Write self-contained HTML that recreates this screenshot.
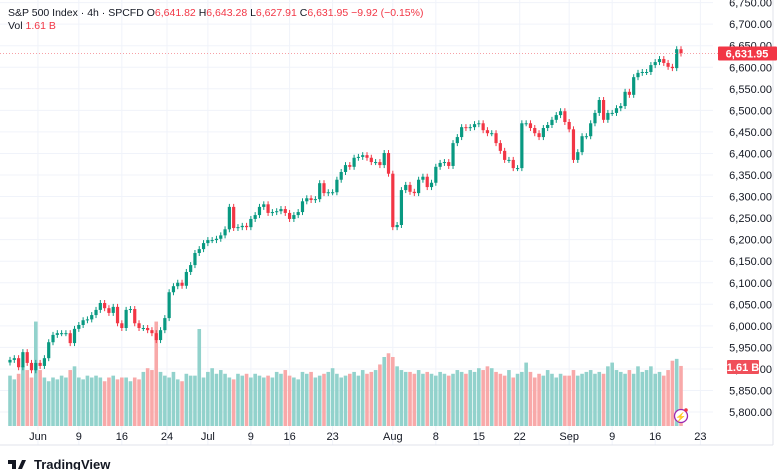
<!DOCTYPE html>
<html><head><meta charset="utf-8">
<style>
body{margin:0;background:#fff;font-family:"Liberation Sans",sans-serif;}
#wrap{position:relative;width:780px;height:470px;overflow:hidden;}
svg text{font-family:"Liberation Sans",sans-serif;}
</style></head>
<body>
<div id="wrap">
<svg id="chart" width="780" height="470"></svg>
</div>
<script>
const closes=[5921,5925,5904,5939,5914,5897,5914,5907,5925,5962,5979,5983,5983,5983,5960,5993,6002,6013,6015,6025,6037,6053,6041,6030,6044,6006,5995,6037,6039,6006,5995,5995,5990,5983,5967,5990,6018,6078,6092,6100,6093,
6125,6141,6169,6178,6192,6199,6199,6202,6210,6224,6276,6227,6229,6232,6229,6248,6257,6276,6282,6262,6264,6266,6271,6262,6248,6257,6264,6289,6296,6292,6294,6331,6308,6310,6310,6339,6357,6373,6369,6390,6392,6396,6390,6380,6380,
6373,6401,6353,6229,6234,6315,6327,6311,6308,6339,6346,6322,6332,6369,6378,6380,6371,6424,6438,6461,6459,6461,6468,6470,6454,6447,6447,6424,6406,6385,6385,6366,6366,6470,6470,6459,6447,6438,6459,6466,6478,6489,6498,6473,6456,6385,6403,6440,6440,6470,6494,6524,6478,6494,6494,6505,6510,6543,6536,6577,6587,6589,6589,6605,6612,6619,6610,6601,6598,6641.82,6631.95];
const firstOpen=5915;
const volumes=[1.35,1.25,1.4,1.6,1.5,1.3,2.8,1.5,1.3,1.2,1.3,1.25,1.35,1.3,1.5,1.6,1.3,1.25,1.35,1.3,1.35,1.3,1.2,1.3,1.35,1.25,1.3,1.3,1.2,1.3,1.25,1.45,1.55,1.5,2.8,1.45,1.35,1.3,1.45,1.25,1.2,1.4,1.35,1.35,2.6,1.3,1.45,1.55,1.4,1.5,1.4,1.3,1.25,1.4,1.35,1.4,1.3,1.4,1.35,1.3,1.35,1.3,1.45,1.4,1.5,1.35,1.3,1.25,1.45,1.4,1.45,1.3,1.35,1.4,1.45,1.55,1.4,1.3,1.35,1.4,1.45,1.35,1.5,1.4,1.45,1.5,1.65,1.85,1.95,1.85,1.6,1.5,1.45,1.45,1.4,1.5,1.4,1.45,1.4,1.35,1.45,1.4,1.35,1.4,1.5,1.45,1.4,1.5,1.45,1.55,1.5,1.6,1.55,1.45,1.4,1.35,1.5,1.3,1.4,1.45,1.7,1.45,1.3,1.4,1.35,1.5,1.4,1.3,1.4,1.35,1.35,1.5,1.35,1.4,1.45,1.5,1.4,1.45,1.4,1.6,1.7,1.5,1.45,1.4,1.5,1.4,1.6,1.45,1.5,1.6,1.4,1.45,1.35,1.5,1.75,1.8,1.61];
const priceTicks=[6750,6700,6650,6600,6550,6500,6450,6400,6350,6300,6250,6200,6150,6100,6050,6000,5950,5900,5850,5800];
const dateLabels=["Jun","9","16","24","Jul","9","16","23","Aug","8","15","22","Sep","9","16","23"];
const dateIndex=[6.5,16,26,36.5,46,56,65,75,89,99,109,118.5,130,140,150,160.5];

const svg=document.getElementById('chart');
const NS='http://www.w3.org/2000/svg';
function mk(tag,attrs,parent){const e=document.createElementNS(NS,tag);for(const k in attrs)e.setAttribute(k,attrs[k]);(parent||svg).appendChild(e);return e;}
const plotR=713, baseV=426;
function y(p){return 45.7+(6650-p)*0.431;}
function x(i){return 10+i*(671/(closes.length-1));}
function vh(v){return v*37.3;}

const grid=mk('g',{});


priceTicks.forEach(p=>{mk('line',{x1:0,x2:plotR,y1:y(p),y2:y(p),stroke:'#f0f3fa','stroke-width':1},grid);});
dateIndex.forEach(d=>{mk('line',{x1:x(d),x2:x(d),y1:0,y2:445,stroke:'#f0f3fa','stroke-width':1},grid);});

const vg=mk('g',{});


const opens=closes.map((c,i)=>i===0?firstOpen:closes[i-1]);
volumes.forEach((v,i)=>{
  const up=closes[i]>=opens[i];
  const r=mk('rect',{x:x(i)-1.8,y:baseV-vh(v),width:3.6,height:vh(v),fill:up?'#92d2cc':'#f8a9a9'},vg);
  
  
});

const cg=mk('g',{});


closes.forEach((c,i)=>{
  const o=opens[i];const up=c>=o;const col=up?'#089981':'#f23645';
  const top=y(Math.max(o,c)),bot=y(Math.min(o,c));
  const g=mk('g',{},cg);
  
  
  mk('line',{x1:x(i),x2:x(i),y1:top-3,y2:bot+3,stroke:col,'stroke-width':1},g);
  mk('rect',{x:x(i)-1.6,y:top,width:3.2,height:Math.max(1,bot-top),fill:col},g);
});

const last=closes[closes.length-1];
const pl=mk('line',{x1:0,x2:718,y1:y(last),y2:y(last),stroke:'#f7a0a6','stroke-width':1,'stroke-dasharray':'1,2'});



const ax=mk('g',{});


mk('line',{x1:0,x2:773,y1:445,y2:445,stroke:'#e0e3eb'},ax);
mk('line',{x1:773,x2:773,y1:0,y2:445,stroke:'#e0e3eb'},ax);
priceTicks.forEach(p=>{const t=mk('text',{x:772,y:y(p)+4,'text-anchor':'end','font-size':11,fill:'#131722'},ax);t.textContent=p.toLocaleString('en-US',{minimumFractionDigits:2});
});
const xa=mk('g',{});


dateLabels.forEach((d,k)=>{const t=mk('text',{x:x(dateIndex[k]),y:440,'text-anchor':'middle','font-size':11,fill:'#131722'},xa);t.textContent=d;
});

const plb=mk('g',{});


mk('rect',{x:718,y:y(last)-7,width:59,height:14,fill:'#f23645',rx:1},plb);
const plt=mk('text',{x:747,y:y(last)+4,'text-anchor':'middle','font-size':11,fill:'#fff','font-weight':'bold'},plb);plt.textContent='6,631.95';
const vlb=mk('g',{});


mk('rect',{x:727,y:360,width:32,height:14,fill:'#f0505a',rx:1},vlb);
const vlt=mk('text',{x:743,y:371,'text-anchor':'middle','font-size':11,fill:'#fff','font-weight':'bold'},vlb);vlt.textContent='1.61 B';

const ic=mk('g',{});


mk('circle',{cx:681,cy:416,r:6.5,fill:'#fff',stroke:'#9c27b0','stroke-width':1.3},ic);
const bolt=mk('text',{x:681,y:420,'text-anchor':'middle','font-size':9,fill:'#9c27b0'},ic);bolt.textContent='⚡';
mk('circle',{cx:686,cy:410,r:1.8,fill:'#f23645'},ic);

const h=mk('text',{x:8,y:16,'font-size':10.5,fill:'#131722'});


h.innerHTML='S&amp;P 500 Index · 4h · SPCFD  <tspan fill="#131722">O</tspan><tspan fill="#f23645">6,641.82</tspan>  <tspan>H</tspan><tspan fill="#f23645">6,643.28</tspan>  <tspan>L</tspan><tspan fill="#f23645">6,627.91</tspan>  <tspan>C</tspan><tspan fill="#f23645">6,631.95 −9.92 (−0.15%)</tspan>';
h.setAttribute('xml:space','preserve');
const vl=mk('text',{x:8,y:29,'font-size':10.5,fill:'#131722'});


vl.innerHTML='Vol  <tspan fill="#f23645">1.61 B</tspan>';
vl.setAttribute('xml:space','preserve');

const lg=mk('g',{});


mk('path',{d:'M8 460h8v9h-4v-5h-4z M18 469l4-9h4l-4 9z',fill:'#131722'},lg);
const lt=mk('text',{x:34,y:469,'font-size':13,'font-weight':'bold',fill:'#131722'},lg);lt.textContent='TradingView';
</script>
</body></html>
